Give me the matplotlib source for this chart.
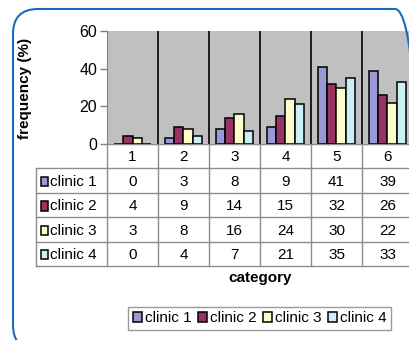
import matplotlib.pyplot as plt
from matplotlib.patches import Patch, Rectangle, FancyBboxPatch
import numpy as np

plt.rcParams['font.family'] = ['Liberation Sans', 'DejaVu Sans']

# frequency (%) per category for each clinic
categories = ['1', '2', '3', '4', '5', '6']
clinic_names = ['clinic 1', 'clinic 2', 'clinic 3', 'clinic 4']
clinic1 = [0, 3, 8, 9, 41, 39]
clinic2 = [4, 9, 14, 15, 32, 26]
clinic3 = [3, 8, 16, 24, 30, 22]
clinic4 = [0, 4, 7, 21, 35, 33]
series = [clinic1, clinic2, clinic3, clinic4]
colors = ['#9999d6', '#993366', '#fffccc', '#cceef5']

W, H = 410, 340
fs = 11
fig = plt.figure(figsize=(W / 100, H / 100), dpi=100)

# blue rounded frame
frame = FancyBboxPatch((13, -10), 407, 341, boxstyle="round,pad=0,rounding_size=25",
                       transform=None, facecolor='none', edgecolor='#1a6bbf', linewidth=1.5)
fig.add_artist(frame)

def px(x0, y0, x1, y1):
    return [x0 / W, 1 - y1 / H, (x1 - x0) / W, (y1 - y0) / H]

x = np.arange(1, len(categories) + 1)
bw = 0.18

ax = fig.add_axes(px(107, 31, 413, 144))
ax.set_facecolor('#c0c0c0')
for i, vals in enumerate(series):
    ax.bar(x + (i - 1.5) * bw, vals, bw, color=colors[i], edgecolor='black', linewidth=1.1, zorder=3)
for xv in x[:-1] + 0.5:
    ax.axvline(xv, color='black', linewidth=1.2, zorder=2)
ax.set_xlim(0.5, 6.5)
ax.set_ylim(0, 60)
ax.set_yticks([0, 20, 40, 60])
ax.set_xticks([])
ax.tick_params(axis='y', length=5, width=1, color='#808080', labelsize=fs + 0.5, pad=2)
for s in ['top', 'right']:
    ax.spines[s].set_visible(False)
ax.spines['left'].set_color('#808080')
ax.spines['bottom'].set_color('#808080')

fig.text(25 / W, 1 - 88 / H, 'frequency (%)', rotation=90, ha='center', va='center',
         fontsize=fs, fontweight='bold')

# data table below the plot
xl = 0.5 - 71 / 51
tb = fig.add_axes(px(36, 144, 413, 266))
tb.set_xlim(xl, 6.5)
tb.set_ylim(5, 0)
tb.axis('off')
gc = '#8c8c8c'
tb.plot([0.5, 6.5], [0, 0], color=gc, lw=1)
for yv in range(1, 6):
    tb.plot([xl, 6.5], [yv, yv], color=gc, lw=1, clip_on=False)
for xv in np.arange(0.5, 7.5, 1):
    tb.plot([xv, xv], [0, 5], color=gc, lw=1, clip_on=False)
tb.plot([xl, xl], [1, 5], color=gc, lw=1, clip_on=False)

for j, c in enumerate(categories):
    tb.text(x[j], 0.55, c, ha='center', va='center', fontsize=fs)
for i, vals in enumerate(series):
    yc = i + 1.55
    tb.add_patch(Rectangle((xl + 0.09, yc - 0.2), 0.15, 0.38, facecolor=colors[i],
                           edgecolor='black', linewidth=1.1))
    tb.text(xl + 0.28, yc, clinic_names[i], ha='left', va='center', fontsize=fs)
    for j, v in enumerate(vals):
        tb.text(x[j], yc, str(v), ha='center', va='center', fontsize=fs)

fig.text(260 / W, 1 - 278 / H, 'category', ha='center', va='center',
         fontsize=fs, fontweight='bold')

handles = [Patch(facecolor=colors[i], edgecolor='black', linewidth=1.1) for i in range(4)]
leg = fig.legend(handles, clinic_names, loc='center', bbox_to_anchor=(259.5 / W, 1 - 318.5 / H),
                 ncol=4, fontsize=fs, handlelength=0.6, handleheight=0.6, handletextpad=0.2,
                 columnspacing=0.4, borderpad=0.3, fancybox=False, frameon=True)
leg.get_frame().set_edgecolor('#808080')
leg.get_frame().set_linewidth(1)

fig.savefig('out.png', dpi=100)
